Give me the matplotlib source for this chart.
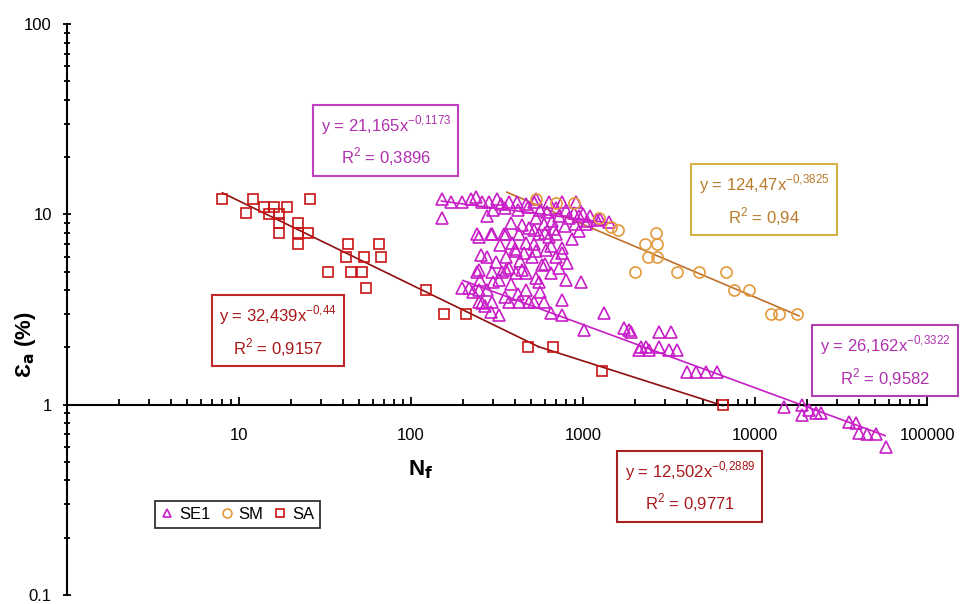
import numpy as np
import matplotlib
matplotlib.use("Agg")
import matplotlib.pyplot as plt
from matplotlib.ticker import FixedLocator, LogLocator, NullFormatter

plt.rcParams['font.family'] = ['Liberation Sans', 'DejaVu Sans']

# SE1 data (Nf, strain %)
se1_n = [151, 171, 198, 223, 239, 259, 284, 316, 334, 371, 413, 466, 519, 533, 634, 755, 910,
         300, 350, 420, 480, 560, 620, 700, 800, 880, 1000, 1100, 1250,
         151, 277, 533, 593, 660, 725, 829, 948, 1055, 1206, 1416,
         380, 440, 520, 600, 680, 780, 900,
         249, 292, 357, 387, 425, 486, 466, 555, 634, 697, 755, 863, 948, 1041, 242, 296, 347,
         330, 400, 520, 650, 700,
         255, 277, 312, 357, 408, 454, 505, 533, 609, 755, 578, 725, 807, 430, 600,
         249, 371, 442, 338, 242, 296, 357, 408, 466, 533, 325, 555, 796, 973, 650,
         217, 249, 277, 466, 198, 380, 300, 250, 230, 560,
         249, 296, 371, 425, 486, 519, 593, 755, 259, 420, 350,
         292, 325, 651, 755, 1324, 270,
         1014, 1730, 1850, 1900, 2766, 3250,
         2173, 2323, 2117, 2420, 2766, 3162, 3523,
         4027, 4540, 5190, 6010,
         14750, 18750, 20600, 22630, 24200, 18750,
         35200, 38650, 40250, 44800, 50500, 57800]
se1_e = [12.0, 11.7, 11.6, 12.0, 12.3, 11.6, 11.7, 12.0, 11.3, 11.7, 11.6, 11.3, 11.7, 12.0, 11.6, 11.7, 11.6,
         10.5, 10.8, 10.5, 10.9, 10.6, 10.3, 10.8, 10.5, 10.2, 10.0, 9.8, 9.5,
         9.64, 9.76, 9.64, 8.86, 9.19, 9.76, 9.64, 9.76, 9.19, 9.41, 9.08,
         9.0, 8.8, 8.3, 8.0, 8.4, 8.7, 8.9,
         7.66, 7.85, 7.85, 7.12, 7.85, 8.54, 7.12, 7.85, 7.57, 7.85, 6.70, 7.39, 8.14, 8.86, 7.85, 7.85, 7.85,
         6.9, 6.6, 7.0, 6.8, 6.0,
         6.16, 6.01, 5.66, 6.01, 6.39, 6.31, 6.01, 6.39, 6.54, 6.31, 5.45, 5.26, 5.59, 5.7, 5.5,
         5.13, 5.26, 5.13, 5.01, 5.01, 5.01, 5.13, 4.95, 4.95, 4.66, 4.55, 4.44, 4.55, 4.44, 4.9,
         4.13, 4.03, 4.03, 4.03, 4.13, 4.3, 4.4, 4.5, 3.9, 3.9,
         3.48, 3.48, 3.48, 3.48, 3.48, 3.48, 3.48, 3.57, 3.44, 3.8, 3.7,
         3.09, 2.98, 3.05, 2.98, 3.05, 3.3,
         2.48, 2.54, 2.48, 2.42, 2.42, 2.42,
         2.0, 2.0, 1.95, 1.95, 2.0, 1.95, 1.95,
         1.49, 1.49, 1.49, 1.49,
         0.976, 1.0, 0.94, 0.91, 0.91, 0.885,
         0.81, 0.80, 0.71, 0.70, 0.70, 0.60]

# SM data
sm_n = [530, 700, 890, 1240, 1455, 1600, 2650, 2300, 2700, 2400, 2700, 2000,
        3500, 4700, 6800, 7500, 9200, 12400, 13800, 17500]
sm_e = [12.0, 11.5, 11.5, 9.6, 8.6, 8.3, 8.0, 7.0, 7.0, 6.0, 6.0, 5.0,
        5.0, 5.0, 5.0, 4.0, 4.0, 3.0, 3.0, 3.0]

# SA data
sa_n = [8, 11, 12, 14, 15, 16, 17, 17, 17, 19, 22, 22, 25, 22, 26,
        43, 65, 42, 53, 67, 33, 45, 52, 55, 122, 155, 210, 480, 670, 1290, 6500]
sa_e = [12, 10.2, 12, 11, 10, 11, 10, 9, 8, 11, 9, 8, 8, 7, 12,
        7, 7, 6, 6, 6, 5, 5, 5, 4.1, 4, 3, 3, 2, 2, 1.5, 1]

# trendlines: (a, b, n_min, n_max)
se1_fit1 = (21.165, -0.1173, 150, 1450)
se1_fit2 = (26.162, -0.3322, 200, 57000)
sm_fit = (124.47, -0.3825, 360, 18000)
sa_fit1 = (32.439, -0.44, 8, 550)
sa_fit2 = (12.502, -0.2889, 550, 6500)

c_se1 = '#C81EC8'
c_sm = '#E39A3B'
c_sm_line = '#C0702A'
c_sa = '#C81414'
c_sa_line = '#8E0E0E'

fig = plt.figure(figsize=(9.62, 6.04), dpi=100)
ax = fig.add_axes([0.0697, 0.0149, 0.894, 0.945])
ax.set_xscale('log')
ax.set_yscale('log')
ax.set_xlim(1, 100000)
ax.set_ylim(0.1, 100)


def fit_line(f, color):
    a, b, lo, hi = f
    n = np.logspace(np.log10(lo), np.log10(hi), 50)
    ax.plot(n, a * n ** b, color=color, lw=1.2, zorder=2)


fit_line(se1_fit1, c_se1)
fit_line(se1_fit2, c_se1)
fit_line(sm_fit, c_sm_line)
fit_line(sa_fit1, c_sa_line)
fit_line(sa_fit2, c_sa_line)

ax.plot(se1_n, se1_e, ls='none', marker='^', ms=8, mfc='none', mec=c_se1, mew=1.2,
        label='SE1', zorder=3)
ax.plot(sm_n, sm_e, ls='none', marker='o', ms=8, mfc='none', mec=c_sm, mew=1.2,
        label='SM', zorder=3)
ax.plot(sa_n, sa_e, ls='none', marker='s', ms=7, mfc='none', mec=c_sa, mew=1.2,
        label='SA', zorder=3)

# axes styling
for s in ['top', 'right']:
    ax.spines[s].set_visible(False)
ax.spines['bottom'].set_position(('data', 1))
ax.spines['bottom'].set_linewidth(1.5)
ax.spines['left'].set_linewidth(1.5)

ax.xaxis.set_major_locator(FixedLocator([10, 100, 1000, 10000, 100000]))
ax.set_xticklabels(['10', '100', '1000', '10000', '100000'])
ax.xaxis.set_minor_locator(LogLocator(base=10, subs=np.arange(2, 10)))
ax.xaxis.set_minor_formatter(NullFormatter())
ax.tick_params(axis='x', which='both', direction='in', pad=17, labelsize=12)
ax.tick_params(axis='x', which='major', length=6, width=1.3)
ax.tick_params(axis='x', which='minor', length=4, width=1.3)

ax.yaxis.set_major_locator(FixedLocator([0.1, 1, 10, 100]))
ax.set_yticklabels(['0.1', '1', '10', '100'])
ax.yaxis.set_minor_locator(LogLocator(base=10, subs=np.arange(2, 10)))
ax.yaxis.set_minor_formatter(NullFormatter())
ax.tick_params(axis='y', which='both', direction='inout', pad=8, labelsize=12)
ax.tick_params(axis='y', which='major', length=6, width=1.3)
ax.tick_params(axis='y', which='minor', length=4, width=1.3)

fig.text(0.437, 0.222, r'N$_\mathbf{f}$', fontsize=16, fontweight='bold',
         ha='center', va='center')
fig.text(0.026, 0.429, r'Ɛ$_\mathbf{a}$ (%)', fontsize=16, fontweight='bold',
         ha='center', va='center', rotation=90)

# equation boxes
def eq(a, b, r2):
    return ('y = ' + a + 'x$^{\\mathregular{-0{,}' + b + '}}$\n'
            + 'R$^{\\mathregular{2}}$ = ' + r2)


boxes = [
    (0.401, 0.767, 'center', eq('21,165', '1173', '0,3896'), '#B030B0', '#C040C0'),
    (0.794, 0.669, 'center', eq('124,47', '3825', '0,94'), '#B87A2A', '#D8B048'),
    (0.289, 0.452, 'center', eq('32,439', '44', '0,9157'), '#A81818', '#C02828'),
    (0.852, 0.402, 'left', eq('26,162', '3322', '0,9582'), '#B030B0', '#B040B0'),
    (0.717, 0.194, 'center', eq('12,502', '2889', '0,9771'), '#A81818', '#A82020'),
]
for bx, by, ha, txt, tc, ec in boxes:
    fig.text(bx, by, txt, fontsize=12, color=tc, ha=ha, va='center',
             multialignment='center', linespacing=1.5,
             bbox=dict(boxstyle='square,pad=0.45', fc='white', ec=ec, lw=1.5))

leg = ax.legend(loc='lower left', bbox_to_anchor=(0.161, 0.126),
                bbox_transform=fig.transFigure, ncol=3, fontsize=12,
                frameon=True, fancybox=False, edgecolor='black', borderaxespad=0,
                handlelength=0.8, handletextpad=0.3, columnspacing=0.6,
                borderpad=0.35, markerscale=0.8)
leg.get_frame().set_linewidth(1.3)

fig.savefig('out.png', dpi=100)
